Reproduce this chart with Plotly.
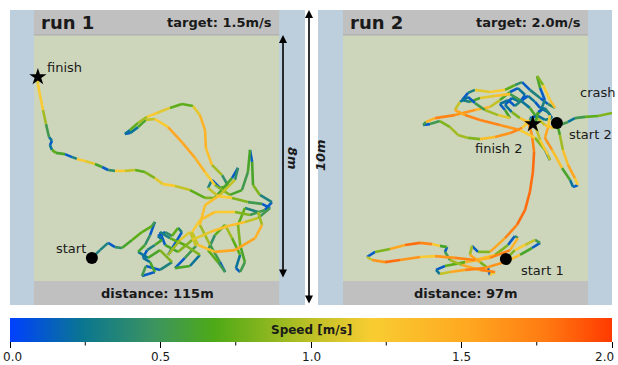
import plotly.graph_objects as go
from plotly.colors import sample_colorscale

# ---------------- data ----------------
SPEED_MIN, SPEED_MAX = 0.0, 2.0
speed_ticks = [0.0, 0.5, 1.0, 1.5, 2.0]
speed_tick_labels = ["0.0", "0.5", "1.0", "1.5", "2.0"]
speed_minor_ticks = [0.25, 0.75, 1.25, 1.75]

speed_colorscale = [
    [0.00, "rgb(0,64,255)"],
    [0.12, "rgb(10,118,145)"],
    [0.24, "rgb(60,148,95)"],
    [0.34, "rgb(78,170,22)"],
    [0.50, "rgb(188,192,38)"],
    [0.60, "rgb(248,205,50)"],
    [0.76, "rgb(255,168,32)"],
    [0.89, "rgb(255,122,18)"],
    [1.00, "rgb(255,58,0)"],
]

# arena interior size [m]
arena_w, arena_h = 8.17, 8.2

# run 1 trajectory [m] and speed [m/s]
run1_x = [1.93, 2.2, 2.47, 2.7, 2.93, 3.27, 3.6, 3.93, 4.03, 3.87, 3.7, 3.47, 3.8, 4.2, 4.6, 4.2, 3.73, 3.6, 4.03,
          3.87, 3.63, 3.77, 4.03, 4.27, 4.13, 4.37, 4.6, 4.8, 4.93,
          4.47,
          4.87, 5.2, 5.4, 5.03, 4.7, 5.2, 5.53, 5.03, 4.53, 4.2, 4.37, 4.8, 5.27, 5.87, 6.47, 7.03, 7.47, 7.87, 7.6, 7.13,
          6.6, 6.13, 5.8, 5.93, 6.2, 6.47, 6.27, 5.93, 5.73, 5.7, 5.53, 5.3, 4.93, 4.53, 4.1, 3.77, 3.47, 3.2, 3.03, 3.2,
          3.47, 3.73, 4.03, 4.47, 4.93, 5.37, 5.7, 6.03, 6.53, 6.93, 7.13, 7.2, 7.27, 7.3, 7.53, 7.93, 7.7, 7.2, 6.7, 6.03,
          5.53, 5.27, 5.47, 6.03, 6.7, 7.37, 7.6, 7.47, 7.03, 6.8, 6.87, 7.03, 6.87, 6.73, 6.87, 6.6, 6.37, 6.03, 5.8, 6.13,
          6.37, 6.2, 5.87, 5.53, 5.7, 6.2, 6.7, 6.8, 6.6, 6.03, 5.7, 5.2, 4.7, 4.3, 4.03, 3.7, 3.37, 3.03, 2.7, 2.47,
          2.27, 2.03, 1.7, 1.43, 1.27, 1.03, 0.73, 0.6, 0.53, 0.6, 0.5, 0.4, 0.3, 0.2, 0.13, 0.13]
run1_y = [0.77, 1.03, 1.27, 1.13, 1.1, 1.37, 1.63, 1.83, 1.97, 1.53, 1.2, 0.97, 0.77, 1.03, 0.63, 0.37, 0.5, 0.17, 0.3,
          0.63, 0.77, 1.03, 1.2, 1.37, 1.5, 1.63, 1.5, 1.77, 1.63,
          0.87,
          1.37, 1.63, 1.17, 0.77, 0.43, 0.5, 0.87, 1.2, 1.43, 1.63, 1.2, 0.97, 1.37, 1.63, 1.83, 1.97, 2.1, 2.43, 2.57, 2.63,
          2.77, 2.83, 3.1, 3.37, 3.1, 3.17, 3.53, 3.87, 4.43, 5.03, 5.53, 5.83, 5.9, 5.77, 5.6, 5.47, 5.27, 5.03, 4.9, 4.93,
          5.13, 5.37, 5.4, 5.13, 4.63, 4.1, 3.63, 3.2, 2.87, 3.03, 3.63, 4.37, 3.97, 3.2, 2.87, 2.63, 2.37, 2.2, 2.3, 2.3,
          2.03, 1.63, 1.2, 0.97, 1.03, 1.43, 1.87, 2.3, 2.43, 1.87, 1.2, 0.63, 0.3, 0.43, 0.87, 1.43, 1.87, 1.53, 1.03, 0.63,
          0.3, 0.63, 1.2, 1.87, 2.53, 2.87, 3.37, 3.77, 3.43, 2.77, 2.77, 3.03, 3.17, 3.23, 3.43, 3.63, 3.7, 3.67, 3.67, 3.7,
          3.8, 3.9, 4.0, 4.07, 4.13, 4.23, 4.27, 4.37, 4.53, 4.67, 4.8, 5.23, 5.7, 6.2, 6.57, 6.8]
run1_speed = [0.3, 0.3, 0.1, 0.4, 0.6, 0.7, 0.7, 0.5, 0.1, 0.4, 0.6, 0.2, 0.6, 0.8, 0.3, 0.1, 0.5, 0.1, 0.6,
              0.2, 0.1, 0.3, 0.6, 0.2, 0.1, 0.4, 0.7, 0.3, 0.1,
              0.9,
              1.1, 1.0, 0.5, 0.1, 0.6, 0.2, 0.8, 0.7, 0.3, 0.1, 0.6, 0.8, 1.1, 1.3, 1.3, 1.0, 0.5, 0.1, 0.5, 0.8,
              1.2, 1.0, 0.3, 0.1, 0.6, 0.4, 0.9, 1.3, 1.4, 1.4, 1.1, 0.7, 0.7, 1.1, 1.2, 0.9, 0.7, 0.2, 0.1, 0.2,
              0.6, 1.0, 1.2, 1.5, 1.5, 1.4, 1.2, 0.8, 0.6, 0.5, 0.6, 0.1, 0.6, 0.8, 0.3, 0.1, 0.5, 0.8, 1.2, 1.3,
              1.2, 1.0, 1.3, 1.5, 1.5, 1.4, 0.9, 0.3, 0.7, 0.8, 0.6, 0.5, 0.1, 0.2, 0.7, 0.9, 0.7, 0.4, 0.7, 0.5,
              0.1, 0.5, 0.9, 1.3, 1.3, 1.0, 0.4, 0.1, 0.6, 0.8, 0.7, 1.0, 1.2, 1.1, 0.8, 0.7, 1.0, 1.2, 0.4, 0.1,
              0.6, 1.1, 1.2, 0.3, 0.1, 0.6, 0.7, 0.2, 0.1, 0.2, 0.5, 0.9, 1.2, 1.2, 1.1, 0.9]

# run 2, part A: start 1 -> crash
run2a_x = [5.43, 5.73, 6.07, 6.4, 6.57, 6.3, 5.9, 5.4, 4.73, 4.07, 3.57, 3.23, 3.1, 3.4, 4.07, 4.9, 5.57, 5.83, 5.73, 5.5,
           5.07, 4.4, 3.73, 3.07, 2.57, 1.9, 1.4, 0.97, 0.8, 1.07, 1.57, 2.07, 2.57, 2.97, 3.23, 3.47, 3.4, 3.57, 3.97, 4.57,
           5.07, 4.9, 4.83, 4.57, 4.23, 4.3, 4.5, 4.9, 5.4, 5.8, 6.07, 6.23, 6.33, 6.37, 6.3, 6.17, 5.9, 5.63, 5.4, 5.63,
           5.9, 6.07, 5.83, 5.57, 5.23, 4.9, 4.4, 3.73, 3.07, 2.77, 2.67, 2.9, 3.23, 3.57, 3.83, 4.17, 4.57, 5.07, 5.57, 5.97,
           6.23, 6.57, 6.73, 6.57, 6.47, 6.67, 6.9, 7.07, 6.83, 6.57, 6.23, 5.97, 5.73, 5.4, 4.9, 4.4, 4.17, 3.97, 4.23, 4.57,
           5.07, 5.57, 5.9, 6.23, 6.47, 6.73, 7.0, 7.23, 7.5, 7.73, 8.07, 8.5, 8.97]
run2a_y = [0.73, 1.03, 1.2, 1.37, 1.27, 1.1, 0.87, 0.63, 0.43, 0.37, 0.3, 0.23, 0.37, 0.5, 0.63, 0.77, 1.03, 1.43, 1.5, 1.2,
           0.87, 0.7, 0.77, 0.83, 0.8, 0.7, 0.63, 0.7, 0.8, 0.97, 1.07, 1.2, 1.27, 1.23, 1.17, 1.13, 0.97, 0.7, 0.53, 0.37,
           0.3, 0.2, 0.43, 0.63, 0.87, 1.17, 0.97, 0.97, 1.43, 1.87, 2.37, 2.97, 3.63, 4.3, 4.87, 5.3, 5.43, 5.63, 5.87, 6.1,
           5.97, 6.2, 6.43, 6.3, 6.03, 5.8, 5.7, 5.53, 5.43, 5.3, 5.2, 5.23, 5.33, 5.13, 4.87, 4.77, 4.73, 4.8, 4.93, 5.1,
           5.37, 5.63, 6.03, 6.43, 6.83, 6.53, 6.03, 5.77, 5.9, 6.1, 6.37, 6.63, 6.53, 6.37, 6.3, 6.37, 6.27, 6.03, 5.97, 6.1,
           6.17, 6.23, 6.03, 5.77, 5.43, 5.2, 5.1, 5.2, 5.3, 5.43, 5.47, 5.5, 5.6]
run2a_speed = [0.8, 1.2, 1.0, 0.5, 0.1, 0.6, 1.3, 1.6, 1.7, 1.5, 1.0, 0.2, 0.1, 0.7, 1.4, 1.7, 1.4, 0.4, 0.1, 0.8,
               1.3, 1.7, 1.6, 1.2, 1.6, 1.8, 1.6, 1.0, 0.1, 0.8, 1.5, 1.8, 1.7, 1.2, 0.6, 0.1, 0.5, 0.9, 1.5, 1.7,
               1.2, 0.1, 0.8, 1.5, 0.9, 0.1, 0.8, 1.5, 1.7, 1.8, 1.8, 1.8, 1.8, 1.7, 1.6, 1.3, 0.8, 0.2, 0.1, 0.2,
               0.1, 0.2, 0.1, 0.6, 1.0, 1.4, 1.6, 1.7, 1.4, 0.5, 0.1, 0.5, 0.8, 0.9, 0.9, 0.8, 1.3, 1.6, 1.7, 1.2,
               0.5, 0.3, 0.1, 0.6, 0.8, 1.2, 1.3, 0.4, 0.1, 0.3, 0.1, 0.4, 0.7, 1.2, 1.1, 0.3, 0.1, 0.3, 0.6, 1.1,
               1.3, 0.5, 0.2, 0.6, 1.0, 1.3, 0.9, 0.5, 0.2, 0.5, 0.7, 0.8, 0.7]

# run 2, part B: start 2 -> finish 2
run2b_x = [7.13, 7.23, 7.33, 7.5, 7.73, 7.83, 7.67, 7.57, 7.3, 6.97, 6.73, 6.83, 6.9, 6.73, 6.5, 6.4, 6.57, 6.83, 6.9, 6.73,
           6.4, 5.9, 5.23, 4.57, 4.07, 3.73, 3.9, 4.17, 4.4, 4.73, 5.17, 5.57,
           5.4, 5.23, 5.5, 5.73, 5.97, 6.17, 6.4, 6.57, 6.83, 6.97, 6.73, 6.5, 6.23, 6.33]
run2b_y = [5.27, 4.87, 4.37, 3.87, 3.43, 3.2, 3.13, 3.37, 3.77, 4.37, 4.77, 5.1, 5.53, 5.77, 5.63, 5.2, 4.7, 4.2, 4.03, 4.37,
           4.77, 5.03, 5.2, 5.37, 5.53, 5.7, 5.97, 6.13, 5.93, 5.7, 5.53, 5.43,
           5.7, 5.9, 6.03, 5.83, 6.03, 6.17, 5.97, 5.77, 5.63, 5.43, 5.37, 5.5, 5.43, 5.23]
run2b_speed = [0.6, 0.9, 1.3, 1.5, 1.2, 0.1, 0.2, 0.6, 1.3, 1.6, 1.5, 1.2, 0.3, 0.1, 0.6, 1.0, 1.2, 1.0, 0.2, 0.8,
               1.2, 1.6, 1.7, 1.7, 1.5, 1.0, 0.2, 0.1, 0.5, 0.9, 1.1, 0.6,
               0.1, 0.2, 0.1, 0.3, 0.1, 0.2, 0.1, 0.2, 0.1, 0.3, 0.2, 0.1, 0.4, 0.5]

# event markers [m]
run1_start = (1.93, 0.77)
run1_finish = (0.13, 6.8)
run2_start1 = (5.43, 0.73)
run2_crash = (8.97, 5.6)
run2_start2 = (7.13, 5.27)
run2_finish2 = (6.33, 5.23)

run_titles = ["run 1", "run 2"]
run_targets = ["target: 1.5m/s", "target: 2.0m/s"]
run_distances = ["distance: 115m", "distance: 97m"]

for a, b, c in [(run1_x, run1_y, run1_speed), (run2a_x, run2a_y, run2a_speed), (run2b_x, run2b_y, run2b_speed)]:
    assert len(a) == len(b) == len(c), (len(a), len(b), len(c))

# ---------------- figure ----------------
W, H = 618, 365
FONT = "DejaVu Sans"
BLUE = "#bdcfdc"
GREY = "#c0c0c0"
GREEN = "#cdd6bb"
TXT = "#1a1a1a"
CB_LEFT, CB_LEN = 10, 602


def fx(px):
    return px / W


def fy(py):
    return 1 - py / H


fig = go.Figure()
NB = 40


def add_path(xs, ys, ss, xa, ya):
    # each segment coloured by the speed at its starting sample
    bins = {}
    for i in range(len(xs) - 1):
        s = ss[i]
        k = min(int((s - SPEED_MIN) / (SPEED_MAX - SPEED_MIN) * NB), NB - 1)
        bx, by = bins.setdefault(k, ([], []))
        bx += [xs[i], xs[i + 1], None]
        by += [ys[i], ys[i + 1], None]
    for k in sorted(bins):
        bx, by = bins[k]
        c = sample_colorscale(speed_colorscale, (k + 0.5) / NB)[0]
        fig.add_trace(go.Scatter(x=bx, y=by, mode="lines", xaxis=xa, yaxis=ya,
                                 line=dict(color=c, width=2.6), hoverinfo="skip",
                                 showlegend=False))


add_path(run1_x, run1_y, run1_speed, "x", "y")
add_path(run2a_x, run2a_y, run2a_speed, "x2", "y2")
add_path(run2b_x, run2b_y, run2b_speed, "x2", "y2")


def add_marker(pt, symbol, size, xa, ya):
    fig.add_trace(go.Scatter(x=[pt[0]], y=[pt[1]], mode="markers", xaxis=xa, yaxis=ya,
                             marker=dict(symbol=symbol, size=size, color="black",
                                         line=dict(width=0)),
                             hoverinfo="skip", showlegend=False, cliponaxis=False))


add_marker(run1_start, "circle", 12, "x", "y")
add_marker(run1_finish, "star", 13, "x", "y")
add_marker(run2_start1, "circle", 12, "x2", "y2")
add_marker(run2_start2, "circle", 12, "x2", "y2")
add_marker(run2_finish2, "star", 13, "x2", "y2")
add_marker(run2_crash, "x", 12, "x2", "y2")

# colorbar trace
fig.add_trace(go.Scatter(
    x=[None], y=[None], mode="markers", showlegend=False, hoverinfo="skip",
    marker=dict(color=[SPEED_MIN, SPEED_MAX], cmin=SPEED_MIN, cmax=SPEED_MAX,
                colorscale=speed_colorscale, showscale=True,
                colorbar=dict(orientation="h", x=fx(CB_LEFT + CB_LEN / 2), xanchor="center",
                              y=fy(318), yanchor="top",
                              lenmode="pixels", len=CB_LEN, thicknessmode="pixels",
                              thickness=24, outlinewidth=0, xpad=0, ypad=0,
                              ticks="outside", ticklen=6, tickwidth=1, tickcolor="black",
                              tickvals=speed_ticks, showticklabels=False))))

# axes
yr = [-0.8, 9.033]
ax_common = dict(showgrid=False, zeroline=False, showticklabels=False, ticks="",
                 showline=False, fixedrange=True)
fig.update_layout(
    width=W, height=H, margin=dict(l=0, r=0, t=0, b=0),
    paper_bgcolor="white", plot_bgcolor=BLUE,
    xaxis=dict(domain=[fx(10), fx(305)], range=[-0.8, 9.033], anchor="y", **ax_common),
    yaxis=dict(domain=[fy(305), fy(10)], range=yr, anchor="x", **ax_common),
    xaxis2=dict(domain=[fx(318), fx(612)], range=[-0.833, 8.967], anchor="y2", **ax_common),
    yaxis2=dict(domain=[fy(305), fy(10)], range=yr, anchor="x2", **ax_common),
    font=dict(family=FONT, color=TXT),
    hovermode=False,
)

shapes = []
for xa, ya in [("x", "y"), ("x2", "y2")]:
    shapes.append(dict(type="rect", xref=xa, yref=ya, x0=0, x1=arena_w, y0=0, y1=arena_h,
                       fillcolor=GREEN, line=dict(width=0), layer="below"))
    shapes.append(dict(type="rect", xref=xa, yref=ya, x0=0, x1=arena_w, y0=arena_h, y1=yr[1],
                       fillcolor=GREY, line=dict(width=0), layer="below"))
    shapes.append(dict(type="rect", xref=xa, yref=ya, x0=0, x1=arena_w, y0=yr[0], y1=0,
                       fillcolor=GREY, line=dict(width=0), layer="below"))
    shapes.append(dict(type="line", xref=xa, yref=ya, x0=0, x1=arena_w, y0=arena_h, y1=arena_h,
                       line=dict(color="#aaaaaa", width=1), layer="below"))


def cb_px(v):
    return CB_LEFT + (v - SPEED_MIN) / (SPEED_MAX - SPEED_MIN) * CB_LEN


# minor ticks on colorbar
for v in speed_minor_ticks:
    xp = fx(cb_px(v))
    shapes.append(dict(type="line", xref="paper", yref="paper", x0=xp, x1=xp,
                       y0=fy(342), y1=fy(345.5), line=dict(color="black", width=1)))
fig.update_layout(shapes=shapes)

ann = []


def txt(text, px, py, xanchor="center", size=13, bold=False, italic=False, angle=0):
    t = text
    if bold:
        t = "<b>" + t + "</b>"
    if italic:
        t = "<i>" + t + "</i>"
    ann.append(dict(text=t, x=fx(px), y=fy(py), xref="paper", yref="paper",
                    xanchor=xanchor, yanchor="middle", showarrow=False, textangle=angle,
                    font=dict(family=FONT, size=size, color=TXT)))


# headers and footers
txt(run_titles[0], 39, 23, "left", 18, bold=True)
txt(run_targets[0], 274, 23, "right", 13, bold=True)
txt(run_distances[0], 157, 293, "center", 13, bold=True)
txt(run_titles[1], 348, 23, "left", 18, bold=True)
txt(run_targets[1], 583, 23, "right", 13, bold=True)
txt(run_distances[1], 466, 293, "center", 13, bold=True)

# event labels
txt("finish", 45, 67, "left", 13)
txt("start", 88, 248, "right", 13)
txt("crash", 617, 92, "right", 13)
txt("start 2", 567, 134, "left", 13)
txt("finish 2", 524, 148, "right", 13)
txt("start 1", 519, 270, "left", 13)

# scale labels
txt("8m", 293, 158, "center", 13, bold=True, italic=True, angle=90)
txt("10m", 321, 155, "center", 13, bold=True, italic=True, angle=-90)
txt("Speed [m/s]", 311, 330, "center", 12, bold=True)

# colorbar tick labels
for i, (v, lab) in enumerate(zip(speed_ticks, speed_tick_labels)):
    if i == 0:
        txt(lab, 0.5, 357, "left", 12)
    elif i == len(speed_ticks) - 1:
        txt(lab, 616, 357, "right", 12)
    else:
        txt(lab, cb_px(v), 357, "center", 12)

# scale arrows
for px, top, bottom in [(283, 35, 279), (309, 10, 305)]:
    ann.append(dict(text="", x=fx(px), y=fy(top), xref="paper", yref="paper",
                    ax=0, ay=bottom - top, axref="pixel", ayref="pixel",
                    showarrow=True, arrowhead=2, startarrowhead=2, arrowside="end+start",
                    arrowsize=1, startarrowsize=1, arrowwidth=1.6, arrowcolor="black",
                    standoff=0, startstandoff=0))

fig.update_layout(annotations=ann)

fig.write_html(
    "out.html",
    config={"displayModeBar": False, "staticPlot": True},
    post_script="document.body.style.margin='0';document.body.style.overflow='hidden';",
)
